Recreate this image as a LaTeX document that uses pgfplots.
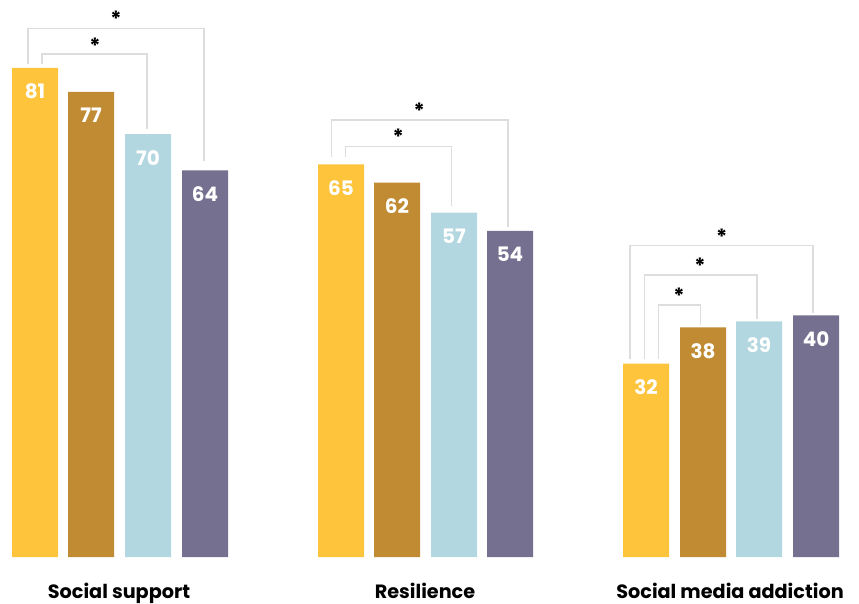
\documentclass[border=0pt]{standalone}
\usepackage{pgfplots}
\pgfplotsset{compat=1.18}
\usepackage{fontspec}
\setmainfont{Poppins}
\definecolor{cyel}{HTML}{FEC43C}
\definecolor{cbrn}{HTML}{C08B32}
\definecolor{cblu}{HTML}{B3D7E1}
\definecolor{cpur}{HTML}{75708F}
\definecolor{cgry}{HTML}{DDDDDD}
\begin{document}
\begin{tikzpicture}
\begin{axis}[
  width=859bp, height=603bp, scale only axis,
  xmin=0, xmax=859, ymin=-7.616, ymax=92.22,
  axis lines=none, clip=false,
  /pgf/number format/assume math mode=true,
  ybar, bar width=46, bar shift=0pt,
  nodes near coords,
  every node near coord/.append style={anchor=north, yshift=-16bp, text=white,
     font=\fontsize{20}{20}\selectfont\bfseries, inner sep=0pt},
]
\path (rel axis cs:0,0) rectangle (rel axis cs:1,1);
\addplot[fill=cyel, draw=none] coordinates {(35,81) (341,65) (646,32)};
\addplot[fill=cbrn, draw=none] coordinates {(91,77) (397,62) (703,38)};
\addplot[fill=cblu, draw=none] coordinates {(148,70) (454,57) (759,39)};
\addplot[fill=cpur, draw=none] coordinates {(205,64) (510,54) (816,40)};
% brackets
\draw[cgry, line width=1.3bp] (axis cs:28,81.62) |- (axis cs:204,87.47) -- (axis cs:204,65.56);
\draw[cgry, line width=1.3bp] (axis cs:42,81.62) |- (axis cs:147,83.28) -- (axis cs:147,70.86);
\draw[cgry, line width=1.3bp] (axis cs:331.3,66.27) |- (axis cs:508,72.35) -- (axis cs:508,54.69);
\draw[cgry, line width=1.3bp] (axis cs:345.7,66.27) |- (axis cs:451.7,67.93) -- (axis cs:451.7,58.11);
\draw[cgry, line width=1.3bp] (axis cs:630,32.73) |- (axis cs:813,51.54) -- (axis cs:813,40.45);
\draw[cgry, line width=1.3bp] (axis cs:644.3,32.73) |- (axis cs:757,46.69) -- (axis cs:757,39.40);
\draw[cgry, line width=1.3bp] (axis cs:658.7,32.73) |- (axis cs:700.7,41.72) -- (axis cs:700.7,38.46);
% asterisks
\tikzset{ast/.style={anchor=base, yshift=-10.5bp, inner sep=0pt, font=\fontsize{21}{21}\selectfont\bfseries}}
\node[ast] at (axis cs:116,89.57) {*};
\node[ast] at (axis cs:95,85.1) {*};
\node[ast] at (axis cs:419.3,74.29) {*};
\node[ast] at (axis cs:398.3,69.98) {*};
\node[ast] at (axis cs:721.7,53.48) {*};
\node[ast] at (axis cs:700,48.63) {*};
\node[ast] at (axis cs:679,43.76) {*};
% category labels
\tikzset{cat/.style={anchor=base, inner sep=0pt, font=\fontsize{19.3}{19.3}\selectfont\bfseries}}
\node[cat] at (axis cs:119,-6.79) {Social support};
\node[cat] at (axis cs:425,-6.79) {Resilience};
\node[cat] at (axis cs:730,-6.79) {Social media addiction};
\end{axis}
\end{tikzpicture}
\end{document}
